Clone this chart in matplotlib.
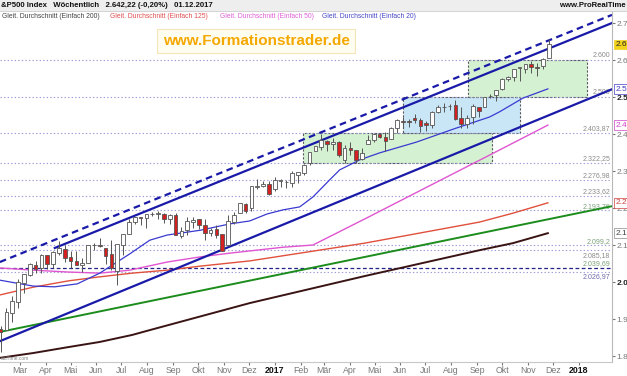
import matplotlib
matplotlib.use("Agg")
import matplotlib.pyplot as plt
import matplotlib.dates as mdates
import matplotlib.transforms as mtrans
from matplotlib.patches import Rectangle
import numpy as np
import pandas as pd

plt.rcParams['font.family'] = ['Liberation Sans', 'DejaVu Sans']

# ---------------- data ----------------
first_week = "2016-02-08"
opens = [1873,1871,1917,1947,1996,2020,2047,2037,2073,2050,2078,2089,2067,2058,2047,2052,2100,2099,2092,2075,
         2030,2100,2131,2162,2175,2173,2183,2184,2183,2170,2180,2123,2140,2163,2169,2155,2133,2142,2129,2100,
         2163,2186,2210,2200,2258,2260,2266,
         2251,2273,2270,2267,2290,2295,2321,2354,2366,2380,2372,2378,2329,2363,2357,2332,2372,2385,2401,2393,
         2387,2415,2436,2436,2442,2439,2431,2424,2460,2473,2475,2478,2444,2426,2447,2474,2474,2503,2506,2521,
         2550,2553,2578,2575,2588,2580,2583,2606]
highs = [1881,1930,1962,2009,2022,2052,2056,2075,2074,2084,2111,2099,2084,2084,2064,2099,2105,2120,2093,2113,
         2103,2131,2169,2175,2177,2182,2188,2193,2187,2184,2187,2150,2175,2175,2169,2169,2147,2154,2131,2182,
         2189,2214,2214,2260,2278,2273,2273,
         2283,2279,2277,2300,2298,2319,2352,2367,2401,2383,2390,2382,2370,2378,2358,2361,2398,2399,2404,2406,
         2418,2440,2446,2441,2453,2443,2434,2463,2478,2484,2480,2491,2474,2451,2480,2474,2500,2508,2519,2552,
         2557,2575,2582,2588,2598,2593,2605,2657]
lows = [1810,1871,1891,1931,1969,2015,2023,2023,2034,2039,2073,2053,2039,2045,2026,2052,2087,2094,2050,2032,
        1992,2074,2131,2156,2155,2147,2178,2169,2160,2157,2127,2119,2127,2145,2142,2114,2124,2120,2083,2097,
        2156,2186,2187,2192,2251,2258,2234,
        2245,2258,2255,2257,2268,2288,2315,2353,2358,2354,2356,2337,2322,2344,2322,2329,2372,2378,2388,2353,
        2386,2403,2415,2419,2431,2405,2407,2417,2457,2459,2464,2437,2417,2417,2428,2446,2474,2496,2488,2520,
        2542,2544,2544,2566,2566,2557,2575,2605]
closes = [1865,1918,1948,2000,2022,2050,2036,2073,2048,2081,2092,2065,2057,2047,2052,2099,2099,2096,2071,2037,
          2103,2130,2162,2175,2174,2183,2184,2184,2169,2180,2128,2139,2165,2168,2154,2133,2141,2126,2085,2164,
          2182,2213,2192,2260,2258,2264,2239,
          2277,2275,2271,2295,2297,2316,2351,2367,2383,2373,2378,2344,2363,2356,2329,2349,2384,2399,2391,2382,
          2416,2439,2432,2433,2438,2423,2425,2459,2473,2472,2477,2441,2426,2443,2477,2461,2500,2502,2519,2549,
          2553,2575,2581,2588,2582,2579,2602,2642]

ma20_dates = ["2016-02-08","2016-03-19","2016-04-14","2016-05-11","2016-06-07","2016-07-13","2016-08-06",
              "2016-08-27","2016-10-06","2016-11-10","2016-12-04","2016-12-25","2017-01-13","2017-02-02",
              "2017-02-18","2017-03-10","2017-03-22","2017-04-15","2017-05-09","2017-06-22","2017-08-09",
              "2017-09-18","2017-09-30","2017-10-28","2017-11-27"]
ma20_vals = [2005,1989,1987,1995,2024,2076,2113,2127,2140,2157,2165,2184,2195,2203,2230,2276,2303,2330,2349,
             2378,2416,2446,2460,2497,2522]

ma50_dates = ["2016-02-08","2016-03-19","2016-04-30","2016-06-07","2016-07-13","2016-08-27","2016-10-06",
              "2016-11-10","2016-12-04","2017-01-13","2017-02-18","2017-04-26","2017-07-07","2017-09-18",
              "2017-11-27"]
ma50_vals = [2038,2032,2027,2024,2032,2054,2068,2078,2084,2094,2100,2176,2259,2343,2424]

ma125_dates = ["2016-02-08","2016-03-19","2016-04-30","2016-06-07","2016-07-16","2016-08-27","2016-10-06",
               "2016-12-04","2017-04-21","2017-09-06","2017-10-16","2017-11-27"]
ma125_vals = [1965,1986,2003,2014,2024,2032,2043,2057,2105,2162,2186,2214]

ma200_dates = ["2016-02-08","2016-03-19","2016-04-30","2016-06-07","2016-07-16","2016-08-06","2016-12-04",
               "2017-04-21","2017-09-06","2017-10-16","2017-11-27"]
ma200_vals = [1795,1808,1824,1838,1857,1870,1943,2016,2086,2105,2132]

# trend lines: (start date, start value, end date, end value)
trend_upper = ("2016-04-14", 2092, "2018-02-12", 2700)
trend_upper_dashed = ("2016-02-08", 2054, "2018-02-12", 2722)
trend_lower = ("2016-02-08", 1840, "2018-02-12", 2521)
trend_green = ("2016-02-08", 1865, "2018-02-12", 2205)

# zones: (start date, end date, low, high)
zones = [("2017-02-06", "2017-09-21", 2322.25, 2403.87, "#d4f2d2"),
         ("2017-06-06", "2017-10-25", 2403.87, 2500.0, "#c9e6f7"),
         ("2017-08-23", "2018-01-13", 2500.0, 2600.0, "#d4f2d2")]

levels = [2600, 2500, 2403.87, 2322.25, 2276.98, 2233.62, 2193.76, 2099.2, 2085.18, 2038.69, 2026.97]
level_labels = ["2.600", "2.500", "2.403,87", "2.322,25", "2.276,98", "2.233,62", "2.193,76",
                "2.099,2", "2.085,18", "2.039,69", "2.026,97"]
level_label_colors = ["#8a8a8a", "#8a8a8a", "#8a8a8a", "#8a8a8a", "#8a8a8a", "#8a8a8a", "#7aa07a",
                      "#7aa07a", "#8a8a8a", "#7aa07a", "#6a6ab0"]
level_label_below = [False, False, False, False, False, False, False, False, True, False, True]

month_ticks = ["2016-03-01","2016-04-01","2016-05-01","2016-06-01","2016-07-01","2016-08-01","2016-09-01",
               "2016-10-01","2016-11-01","2016-12-01","2017-01-01","2017-02-01","2017-03-01","2017-04-01",
               "2017-05-01","2017-06-01","2017-07-01","2017-08-01","2017-09-01","2017-10-01","2017-11-01",
               "2017-12-01","2018-01-01"]
month_labels = ["Mar","Apr","Mai","Jun","Jul","Aug","Sep","Okt","Nov","Dez","2017","Feb","Mär","Apr","Mai",
                "Jun","Jul","Aug","Sep","Okt","Nov","Dez","2018"]

y_ticks = [1800, 1900, 2000, 2100, 2200, 2300, 2400, 2500, 2600, 2700]
y_tick_labels = ["1.8", "1.9", "2.0", "2.1", "2.2", "2.3", "2.4", "2.5", "2.6", "2.7"]

last_price = 2642.22

# ---------------- figure ----------------
W, H = 627, 376
fig = plt.figure(figsize=(W / 100, H / 100), dpi=100)
ax = fig.add_axes([0, 14 / H, 612 / W, 1 - 14 / H])

def dn(s):
    return mdates.date2num(pd.Timestamp(s))

ref = dn("2017-01-01")
ax.set_xlim(ref - 327.8, ref + 407.0)
ax.set_ylim(1783.8, 2762.2)

o = np.array(opens, float); h = np.array(highs, float)
l = np.array(lows, float); c = np.array(closes, float)
xd = mdates.date2num(pd.date_range(first_week, periods=len(c), freq="7D")) + 1.0

# zones
for d0, d1, lo, hi, col in zones:
    ax.add_patch(Rectangle((dn(d0), lo), dn(d1) - dn(d0), hi - lo, facecolor=col,
                           edgecolor="#5a5a5a", lw=0.8, ls=(0, (2, 1.5)), zorder=1))

# horizontal levels
for v in levels:
    if abs(v - 2038.69) < 0.01:
        ax.axhline(v, color="#22228a", lw=0.9, ls=(0, (3, 2)), zorder=1.5)
    else:
        ax.axhline(v, color="#9a9ad8", lw=0.8, ls=(0, (1.2, 2)), zorder=1.5)
bt = mtrans.blended_transform_factory(ax.transAxes, ax.transData)
for v, t, col, below in zip(levels, level_labels, level_label_colors, level_label_below):
    if below:
        ax.text(0.997, v - 3, t, transform=bt, ha="right", va="top", fontsize=5, color=col, zorder=2)
    else:
        ax.text(0.997, v + 2, t, transform=bt, ha="right", va="bottom", fontsize=5, color=col, zorder=2)

# moving averages
ax.plot([dn(d) for d in ma200_dates], ma200_vals, color="#3a1414", lw=1.4, zorder=2)
ax.plot([dn(d) for d in ma125_dates], ma125_vals, color="#e0503c", lw=1.0, zorder=2)
ax.plot([dn(d) for d in ma50_dates], ma50_vals, color="#e055d0", lw=1.0, zorder=2)
ax.plot([dn(d) for d in ma20_dates], ma20_vals, color="#3a3ad0", lw=0.9, zorder=2)

# trend lines
def tline(t, **kw):
    ax.plot([dn(t[0]), dn(t[2])], [t[1], t[3]], **kw)

tline(trend_green, color="#1c8c1c", lw=1.4, zorder=2.5)
tline(trend_lower, color="#1a1aa8", lw=1.6, zorder=2.5)
tline(trend_upper, color="#1a1aa8", lw=1.6, zorder=2.5)
tline(trend_upper_dashed, color="#1a1aa8", lw=1.6, ls=(0, (3, 2)), zorder=2.5)

# candles
up = c >= o
body_lo = np.minimum(o, c)
body_h = np.maximum(np.abs(c - o), 1.5)
ax.vlines(xd, l, h, color="#555555", lw=0.7, zorder=3)
ax.bar(xd, body_h, bottom=body_lo, width=4.4, color=np.where(up, "#ffffff", "#d42020"),
       edgecolor="#555555", linewidth=0.6, zorder=4)

# axes styling
for s in ["top", "left"]:
    ax.spines[s].set_visible(False)
ax.spines["right"].set_color("#b8b8b8")
ax.spines["bottom"].set_color("#c8c8c8")
ax.yaxis.tick_right()
ax.set_yticks(y_ticks)
ax.set_yticklabels(y_tick_labels)
ax.tick_params(axis="y", length=2, pad=1, labelsize=6, colors="#777777")
for lab in ax.get_yticklabels():
    if lab.get_text() in ("2.5", "2.0"):
        lab.set_fontweight("bold"); lab.set_color("#222222")
ax.set_xticks([dn(d) + 2 for d in month_ticks])
ax.set_xticklabels(month_labels)
ax.tick_params(axis="x", length=2, pad=1, labelsize=6.3, colors="#777777")
for lab in ax.get_xticklabels():
    if lab.get_text() in ("2017", "2018"):
        lab.set_fontweight("bold"); lab.set_color("#111111")

# value tags on the right axis
tags = [(last_price, "2.6", "#222222", "#f2d21a", "#f2d21a"),
        (2521, "2.5", "#4040c8", "#ffffff", "#4040c8"),
        (2424, "2.4", "#d040c8", "#ffffff", "#d040c8"),
        (2214, "2.2", "#d04040", "#ffffff", "#d04040"),
        (2132, "2.1", "#444444", "#ffffff", "#888888")]
for v, t, tc, fc, ec in tags:
    ax.text(1.006, v, t, transform=bt, ha="left", va="center", fontsize=6, color=tc,
            bbox=dict(boxstyle="square,pad=0.15", fc=fc, ec=ec, lw=0.5), zorder=6, clip_on=False)

ax.text(0.002, 1787, "ealTime.com", fontsize=3.5, color="#888888", ha="left", va="bottom", transform=bt)

# header
fig.add_artist(Rectangle((0, 1 - 10.5 / H), 1, 10.5 / H, transform=fig.transFigure,
                         fc="#eeeeee", ec="none", zorder=5))
fig.add_artist(plt.Line2D([0, 1], [1 - 10.5 / H] * 2, transform=fig.transFigure,
                          color="#cccccc", lw=0.6, zorder=5))
fig.text(1 / W, 1 - 5.5 / H, "&P500 Index   Wöchentlich   2.642,22 (-0,20%)   01.12.2017",
         fontsize=5.6, fontweight="bold", color="#111111", va="center", ha="left", zorder=6)
fig.text(626 / W, 1 - 5.5 / H, "www.ProRealTime", fontsize=5.6, fontweight="bold", color="#111111",
         va="center", ha="right", zorder=6)

legend_items = [("Gleit. Durchschnitt (Einfach 200)", "#444444", 2),
                ("Gleit. Durchschnitt (Einfach 125)", "#e05050", 110),
                ("Gleit. Durchschnitt (Einfach 50)", "#e060d8", 220),
                ("Gleit. Durchschnitt (Einfach 20)", "#4848c8", 322)]
for t, col, xp in legend_items:
    fig.text(xp / W, 1 - 17 / H, t, fontsize=4.9, color=col, va="center", ha="left", zorder=6)

# watermark
fig.text(256 / W, 1 - 41 / H, "www.Formationstrader.de", fontsize=11, fontweight="bold",
         color="#f4a800", ha="center", va="center", zorder=6,
         bbox=dict(boxstyle="square,pad=0.35", fc="#fffdf0", ec="#f5e6b8", lw=0.8))

fig.savefig("out.png", dpi=100)
